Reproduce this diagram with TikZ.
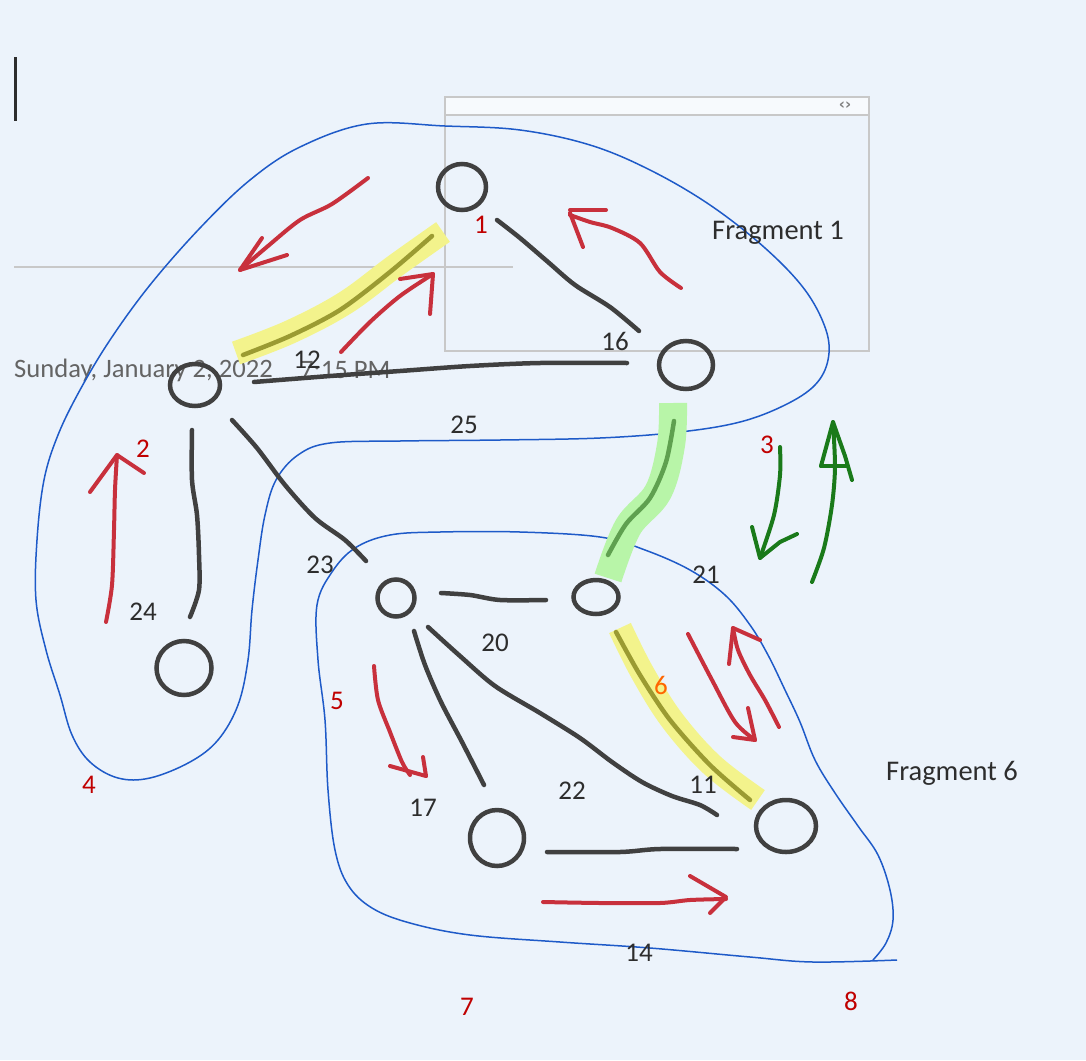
\documentclass[tikz,border=0pt]{standalone}
\usepackage{fontspec}
\setmainfont{Carlito}
\newfontfamily\djv{DejaVu Sans}
\usetikzlibrary{shapes.geometric}
\definecolor{bg}{RGB}{236,243,251}
\definecolor{ink}{RGB}{64,64,64}
\definecolor{redink}{RGB}{200,48,60}
\definecolor{redtxt}{RGB}{192,0,0}
\definecolor{orangetxt}{RGB}{255,102,0}
\definecolor{greenink}{RGB}{26,122,26}
\definecolor{blueline}{RGB}{30,90,200}
\definecolor{yellowhl}{RGB}{243,243,140}
\definecolor{olive}{RGB}{155,155,50}
\definecolor{greenhl}{RGB}{184,245,168}
\definecolor{greenedge}{RGB}{95,160,80}
\definecolor{boxgray}{RGB}{200,200,200}
\definecolor{lbl}{RGB}{45,45,45}
\definecolor{dategray}{RGB}{100,100,100}
\tikzset{
  vertex/.style={draw=ink, line width=4.5pt, ellipse, inner sep=0pt},
  edgestroke/.style={draw=ink, line width=4.5pt, line cap=round, line join=round},
  hledge/.style={line width=4.5pt, line cap=round, line join=round},
  yhl/.style={draw=yellowhl, line width=24pt, line cap=butt, line join=round},
  ghl/.style={draw=greenhl, line width=28pt, line cap=butt, line join=round},
  redarrow/.style={draw=redink, line width=4pt, line cap=round, line join=round},
  greenarrow/.style={draw=greenink, line width=4pt, line cap=round, line join=round},
  outline/.style={draw=blueline, line width=1.5pt, line join=round},
  numlbl/.style={text=lbl, font=\fontsize{27}{30}\selectfont, inner sep=0pt},
  rednum/.style={text=redtxt, font=\fontsize{27}{30}\selectfont, inner sep=0pt},
  fraglbl/.style={text=lbl, font=\fontsize{28.5}{32}\selectfont, inner sep=0pt, anchor=west},
  datetxt/.style={text=dategray, font=\fontsize{26.6}{30}\selectfont, anchor=west, inner sep=0pt},
}
\begin{document}
\begin{tikzpicture}[x=1pt,y=-1pt]
\useasboundingbox (0,0) rectangle (1086,1060);
\fill[bg] (0,0) rectangle (1086,1060);

% page furniture
\draw[line width=3pt, draw=lbl] (15,57) -- (15,121);
\draw[boxgray, line width=1.5pt] (14,267) -- (513,267);
\node[datetxt] (date) at (14,370) {Sunday, January 2, 2022};
\node[datetxt] (time) at (300,370) {7:15 PM};
\fill[white!60!bg] (445,97) rectangle (869,115);
\draw[boxgray, line width=1.5pt] (445,97) rectangle (869,351);
\draw[boxgray, line width=1.5pt] (445,115) -- (869,115);
\node[text=gray, font=\djv\bfseries\fontsize{15}{16}\selectfont, inner sep=0pt] (icon) at (845,106) {‹›};

% blue outlines
\draw[outline] plot[smooth cycle, tension=0.6] coordinates {
 (367,124) (445,126) (520,130) (590,145) (650,170) (710,205) (765,248) (805,290)
 (826,330) (828,360) (815,385) (785,405) (740,422) (680,432) (600,438) (500,440)
 (400,441) (330,443) (298,455) (276,480) (265,515) (258,560) (252,610) (248,660)
 (238,705) (218,740) (190,762) (150,778) (118,778) (90,762) (72,735) (60,695)
 (46,650) (36,600) (37,540) (44,480) (58,435) (80,390) (110,340) (150,285)
 (200,228) (250,180) (300,147) };
\draw[outline] plot[smooth, tension=0.6] coordinates {
 (873,960) (886,943) (893,920) (890,890) (878,855) (858,826) (835,793) (815,760)
 (800,722) (785,690) (768,655) (750,625) (725,595) (690,570) (645,550) (600,537)
 (520,532) (440,532) (390,535) (355,548) (332,572) (317,605) (318,660) (325,720)
 (328,790) (335,850) (348,885) (372,908) (410,923) (470,935) (560,942) (650,948)
 (750,957) (813,962) (897,960) };

% highlights
\draw[yhl] plot[smooth, tension=0.6] coordinates {(236,353) (290,332) (345,303) (395,266) (443,232)};
\draw[yhl] plot[smooth, tension=0.6] coordinates {(620,628) (642,672) (672,720) (712,765) (758,800)};
\draw[ghl] plot[smooth, tension=0.6] coordinates {(673,403) (671,445) (658,492) (628,527) (608,578)};

% vertices
\node[vertex, minimum width=48pt, minimum height=46pt] (n1) at (462,187) {};
\node[vertex, minimum width=54pt, minimum height=48pt] (n16) at (686,365) {};
\node[vertex, minimum width=50pt, minimum height=42pt] (n12) at (195,385) {};
\node[vertex, minimum width=55pt, minimum height=54pt] (n24) at (184,668) {};
\node[vertex, minimum width=37pt, minimum height=37pt] (n23) at (396,598) {};
\node[vertex, minimum width=45pt, minimum height=34pt] (n21) at (596,597) {};
\node[vertex, minimum width=54pt, minimum height=56pt] (n17) at (497,838) {};
\node[vertex, minimum width=60pt, minimum height=52pt] (n11) at (786,826) {};

% edges
\draw[edgestroke] plot[smooth] coordinates {(497,220) (520,238) (548,262) (575,285) (610,307) (639,331)};
\draw[hledge, draw=olive] plot[smooth] coordinates {(243,355) (290,336) (340,310) (390,272) (432,236)};
\draw[edgestroke] plot[smooth] coordinates {(254,382) (330,376) (400,371) (470,366) (540,363) (627,363)};
\draw[edgestroke] plot[smooth] coordinates {(192,430) (192,480) (197,515) (199,555) (199,590) (190,617)};
\draw[edgestroke] plot[smooth] coordinates {(232,420) (257,448) (285,485) (315,518) (345,540) (366,561)};
\draw[hledge, draw=greenedge] plot[smooth] coordinates {(674,421) (666,462) (650,498) (626,524) (608,555)};
\draw[edgestroke] plot[smooth] coordinates {(441,593) (470,595) (500,600) (546,600)};
\draw[edgestroke] plot[smooth] coordinates {(414,631) (425,665) (441,702) (462,742) (484,785)};
\draw[edgestroke] plot[smooth] coordinates {(428,627) (460,656) (495,686) (540,713) (580,738) (612,762) (642,782) (672,796) (700,805) (717,815)};
\draw[hledge, draw=olive] plot[smooth] coordinates {(616,632) (640,675) (670,720) (710,765) (750,800)};
\draw[edgestroke] plot[smooth] coordinates {(547,852) (620,852) (660,849) (737,849)};

% red arrows
\draw[redarrow] plot[smooth] coordinates {(368,178) (332,204) (300,220) (268,246) (240,270)};
\draw[redarrow] (262,238) -- (240,270) -- (287,255);
\draw[redarrow] plot[smooth] coordinates {(341,352) (370,322) (400,296) (433,274)};
\draw[redarrow] (400,279) -- (433,274) -- (430,314);
\draw[redarrow] plot[smooth] coordinates {(681,288) (660,272) (640,243) (612,228) (590,222) (570,215)};
\draw[redarrow] (606,210) -- (570,210);
\draw[redarrow] (570,213) -- (583,247);
\draw[redarrow] plot[smooth] coordinates {(106,622) (112,585) (114,530) (115,490) (117,455)};
\draw[redarrow] (90,492) -- (117,455) -- (144,473);
\draw[redarrow] plot[smooth] coordinates {(374,666) (378,700) (390,732) (402,762) (410,775)};
\draw[redarrow] (390,766) -- (426,776);
\draw[redarrow] (423,757) -- (426,776);
\draw[redarrow] plot[smooth] coordinates {(543,902) (600,903) (660,903) (690,900) (726,899)};
\draw[redarrow] (690,876) -- (726,897) -- (710,913);
\draw[redarrow] plot[smooth] coordinates {(688,634) (712,680) (735,722) (755,740)};
\draw[redarrow] (748,708) -- (755,740) -- (733,737);
\draw[redarrow] plot[smooth] coordinates {(779,727) (765,700) (750,675) (738,650) (733,628)};
\draw[redarrow] (729,664) -- (733,628) -- (760,640);

% green arrows
\draw[greenarrow] plot[smooth] coordinates {(780,447) (780,475) (774,515) (760,558)};
\draw[greenarrow] (752,527) -- (760,558) -- (780,542) -- (797,534);
\draw[greenarrow] plot[smooth] coordinates {(812,582) (824,548) (832,505) (835,467) (833,422)};
\draw[greenarrow] (821,466) -- (833,422) -- (845,456) -- (852,480);
\draw[greenarrow] (821,466) -- (846,466);

% edge labels
\node[numlbl] (l12) at (307,360) {12};
\node[numlbl] (l16) at (615,341) {16};
\node[numlbl] (l25) at (464,425) {25};
\node[numlbl] (l24) at (143,612) {24};
\node[numlbl] (l23) at (320,565) {23};
\node[numlbl] (l20) at (495,643) {20};
\node[numlbl] (l21) at (706,575) {21};
\node[numlbl] (l17) at (423,808) {17};
\node[numlbl] (l22) at (572,791) {22};
\node[numlbl] (l11) at (703,785) {11};
\node[numlbl] (l14) at (639,953) {14};

% red numbers
\node[rednum] (r1) at (481,225) {1};
\node[rednum] (r2) at (143,449) {2};
\node[rednum] (r3) at (767,445) {3};
\node[rednum] (r4) at (89,785) {4};
\node[rednum] (r5) at (337,701) {5};
\node[rednum, text=orangetxt] (r6) at (661,685) {6};
\node[rednum] (r7) at (467,1007) {7};
\node[rednum] (r8) at (851,1001) {8};

\node[fraglbl] (f1) at (712,233) {Fragment 1};
\node[fraglbl] (f6) at (886,773) {Fragment 6};
\end{tikzpicture}
\end{document}
